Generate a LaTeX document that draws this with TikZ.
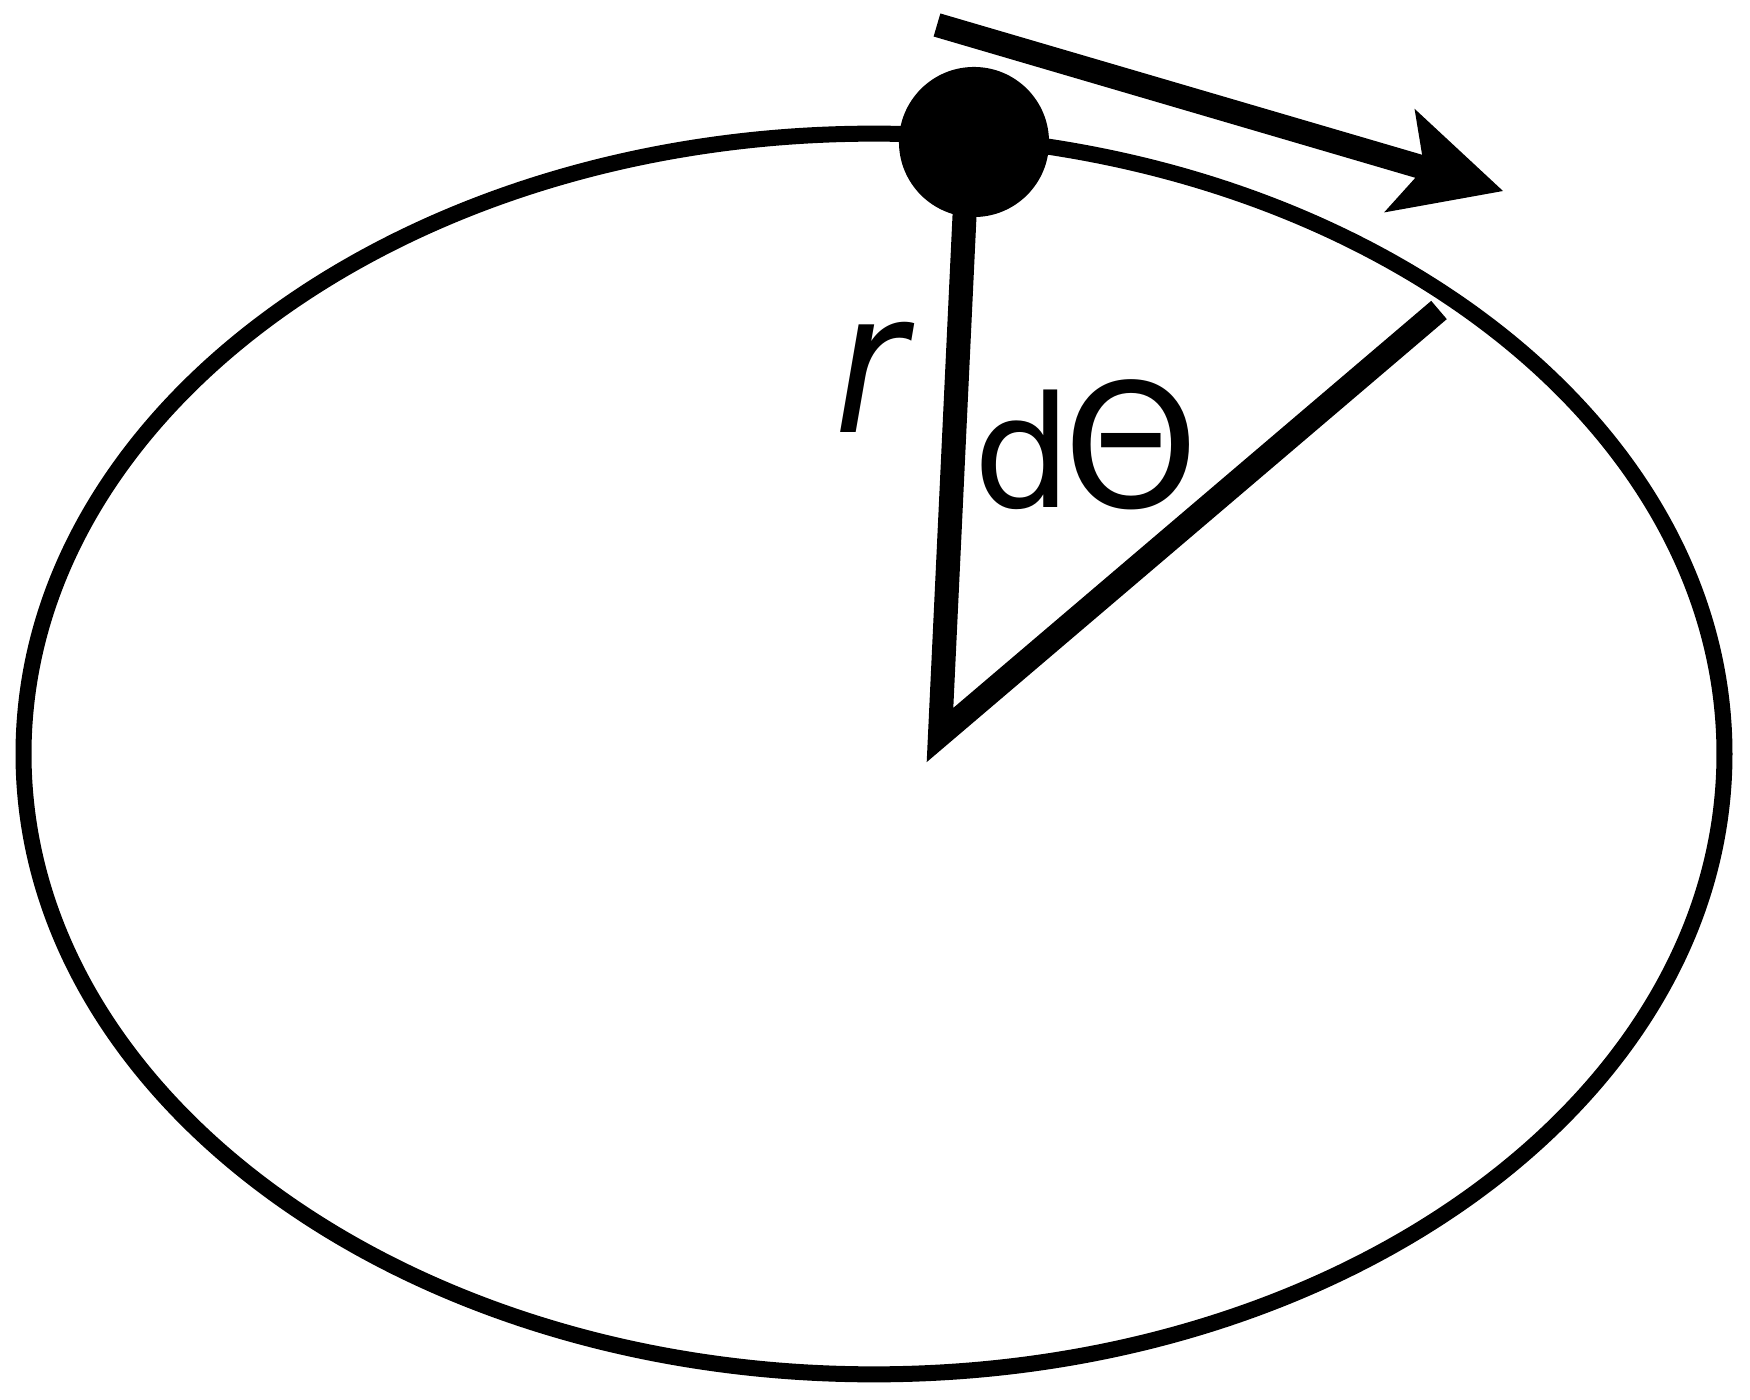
\documentclass[tikz,border=0pt]{standalone}
\usepackage{fontspec}
\usepackage{graphicx}
\newfontfamily\lblfont{DejaVu Sans}
\usetikzlibrary{arrows.meta}
\begin{document}
\begin{tikzpicture}[x=0.01cm, y=-0.01cm, line join=miter,
    orbit/.style={draw=black, line width=0.16cm},
    arm/.style={draw=black, line width=0.24cm},
    vel/.style={draw=black, line width=0.24cm,
      -{Stealth[length=1.08cm, width=1.08cm, inset=0.26cm, line width=0pt]}},
    ball/.style={circle, fill=black, minimum size=1.5cm, inner sep=0pt},
    lbl/.style={inner sep=0pt, text=black}]
  \useasboundingbox (0,0) rectangle (1750,1400);
  % orbit
  \draw[orbit] (874,754) ellipse [x radius=8.5cm, y radius=6.2cm];
  % radius and swept ray
  \coordinate (rtop) at (968,142);
  \coordinate (vtx) at (940,735);
  \coordinate (rayend) at (1439,310);
  \draw[arm] (rtop) -- (vtx) -- (rayend);
  \node[ball] (mass) at (974,142) {};
  % velocity
  \coordinate (vstart) at (937,25);
  \coordinate (vtip) at (1503,191);
  \draw[vel] (vstart) -- (vtip);
  % labels
  \node[lbl, font=\lblfont\itshape\fontsize{56}{56}\selectfont, anchor=base] (rlbl) at (870,433)
    {\scalebox{0.88}[1]{r}};
  \node[lbl, font=\lblfont\fontsize{44}{44}\selectfont, anchor=base west] (dth) at (973,508)
    {d\kern-0.08cm{\fontsize{49}{49}\selectfont Θ}};
\end{tikzpicture}
\end{document}
